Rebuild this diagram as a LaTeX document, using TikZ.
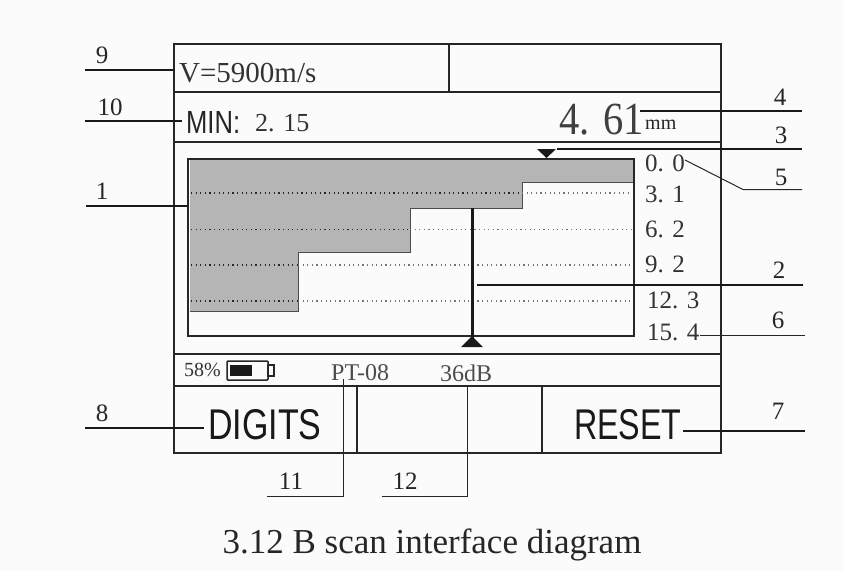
\documentclass[tikz,border=0pt]{standalone}
\usepackage{fontspec}
\setmainfont{Liberation Serif}
\newfontfamily\sansf{Liberation Sans}
\newcommand{\fsz}[1]{\fontsize{#1}{#1}\selectfont}
\tikzset{
  lcd/.style={draw=black!85,line width=1.3pt},
  lead/.style={draw=black!90,line width=1.3pt},
  thinlead/.style={draw=black!85,line width=1pt},
  num/.style={inner sep=0pt,anchor=center,font=\fsz{25},text=black!85},
  val/.style={inner sep=0pt,anchor=west,font=\fsz{25},text=black!80},
  small/.style={inner sep=0pt,anchor=west,font=\fsz{24},text=black!70},
  softkey/.style={inner sep=0pt,anchor=west,font=\sansf\fsz{43},text=black!90},
  dots/.style={line width=1.2pt,dash pattern=on 1.2pt off 3.4pt},
}
\begin{document}
\begin{tikzpicture}[x=1pt,y=-1pt]
\useasboundingbox (0,0) rectangle (844,571);
\fill[white!98.5!black] (0,0) rectangle (844,571);
% gray B-scan area
\fill[black!29] (190,160) -- (634,160) -- (634,182.5) -- (522,182.5) -- (522,208) -- (410,208) -- (410,252) -- (298,252) -- (298,311) -- (190,311) -- cycle;
\draw[black!70,line width=.6pt] (634,182.5) -- (522,182.5) -- (522,208) -- (410,208) -- (410,252) -- (298,252);
\draw[black!70,line width=.6pt] (298,252) -- (298,311) -- (190,311);
% dotted lines
\foreach \yy/\xg in {193/522,229.5/410,265/298,301/298}{
  \draw[dots,black!85] (191,\yy) -- (\xg,\yy);
  \draw[dots,black!55] (\xg,\yy) -- (632,\yy);
}
% frame
\draw[lcd] (174,44) rectangle (721,453);
\draw[lcd] (174,92) -- (721,92);
\draw[lcd] (174,142) -- (721,142);
\draw[lcd] (174,354) -- (721,354);
\draw[lcd] (174,386) -- (721,386);
\draw[lcd] (449,44) -- (449,92);
\draw[lcd] (357,386) -- (357,453);
\draw[lcd] (542,386) -- (542,453);
\draw[lcd,line width=1.5pt] (188,159) rectangle (634,336);
% cursor
\draw[black!90,line width=3pt] (472,208) -- (472,342);
\fill[black!90] (472,336) -- (483,347) -- (461,347) -- cycle;
\fill[black!90] (537,149) -- (556,149) -- (546.5,158) -- cycle;
% screen texts
\node[inner sep=0pt,anchor=west,font=\fsz{29},text=black!80] (vel) at (179,73) {V=5900m/s};
\node[inner sep=0pt,anchor=west,font=\sansf\fsz{32},xscale=.8,text=black!85] (minl) at (186,122) {MIN:};
\node[inner sep=0pt,anchor=west,font=\fsz{26},text=black!80] (minv) at (255,123) {2. 15};
\node[inner sep=0pt,anchor=west,font=\fsz{46},xscale=.88,text=black!75] (thick) at (559,120) {4. 61};
\node[inner sep=0pt,anchor=west,font=\fsz{20},text=black!85] (unit) at (645,125) {mm};
\node[val] (d0) at (645,163) {0. 0};
\node[val] (d1) at (645,194) {3. 1};
\node[val] (d2) at (645,229) {6. 2};
\node[val] (d3) at (645,264) {9. 2};
\node[val] (d4) at (647,300) {12. 3};
\node[val] (d5) at (647,332) {15. 4};
\node[inner sep=0pt,anchor=west,font=\fsz{20},text=black!80] (pct) at (184,370) {58\%};
\draw[black!85,line width=1.5pt,rounded corners=1pt] (227,361) rectangle (268,380);
\fill[black!90] (230,365) rectangle (252,376);
\draw[black!85,line width=1.3pt] (268,365) rectangle (274,376);
\node[small] (probe) at (331,373) {PT-08};
\node[small] (gain) at (440,373) {36dB};
\node[softkey,xscale=.79] (digits) at (208,425) {DIGITS};
\node[softkey,xscale=.75] (reset) at (574,425) {RESET};
% callout labels
\node[num] (n9) at (102,55) {9};
\node[num] (n10) at (110,107) {10};
\node[num] (n1) at (102,191) {1};
\node[num] (n8) at (102,413) {8};
\node[num] (n4) at (780,97) {4};
\node[num] (n3) at (781,135) {3};
\node[num] (n5) at (781,177) {5};
\node[num] (n2) at (779,270) {2};
\node[num] (n6) at (778,320) {6};
\node[num] (n7) at (778,411) {7};
\node[num] (n11) at (291,481) {11};
\node[num] (n12) at (405,481) {12};
% leader ends
\coordinate (a9) at (85,70);     \coordinate (b9) at (174,70);
\coordinate (a10) at (85,121);   \coordinate (b10) at (182,121);
\coordinate (a1) at (86,206);    \coordinate (b1) at (188,206);
\coordinate (a8) at (85,428);    \coordinate (b8) at (204,428);
\coordinate (a4) at (802,111);   \coordinate (b4) at (640,111);
\coordinate (a3) at (802,149);   \coordinate (b3) at (557,149);
\coordinate (a5) at (802,189.5); \coordinate (m5) at (743,189.5); \coordinate (b5) at (685,160);
\coordinate (a2) at (803,285);   \coordinate (b2) at (477,285);
\coordinate (a6) at (805,335);   \coordinate (b6) at (700,335);
\coordinate (a7) at (805,431);   \coordinate (b7) at (683,431);
\coordinate (a11) at (267,496);  \coordinate (m11) at (343,496); \coordinate (b11) at (343,379);
\coordinate (a12) at (382,496);  \coordinate (m12) at (467,496); \coordinate (b12) at (467,386);
\draw[lead] (a9) -- (b9);
\draw[lead] (a10) -- (b10);
\draw[lead] (a1) -- (b1);
\draw[lead] (a8) -- (b8);
\draw[lead] (a4) -- (b4);
\draw[lead] (a3) -- (b3);
\draw[thinlead] (a5) -- (m5) -- (b5);
\draw[lead] (a2) -- (b2);
\draw[thinlead] (a6) -- (b6);
\draw[lead] (a7) -- (b7);
\draw[thinlead] (a11) -- (m11) -- (b11);
\draw[thinlead] (a12) -- (m12) -- (b12);
% caption
\node[inner sep=0pt,font=\fsz{35},text=black!85] (cap) at (432,545) {3.12 B scan interface diagram};
\end{tikzpicture}
\end{document}
